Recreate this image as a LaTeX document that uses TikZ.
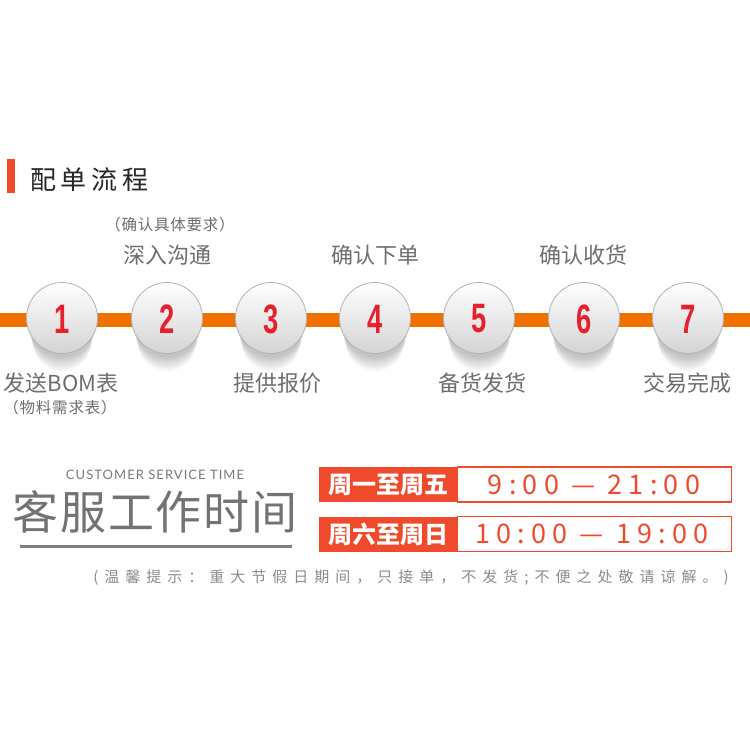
\documentclass[tikz,border=0pt]{standalone}
\usepackage{fontspec}
\setmainfont{Noto Sans CJK SC}
\newfontfamily\cjk{Noto Sans CJK SC}
\newfontfamily\cjklight{Noto Sans CJK SC}[LetterSpace=23]
\newfontfamily\latofont{Lato}[LetterSpace=8]
\newfontfamily\numfont{Liberation Sans}
\definecolor{accent}{HTML}{F04A2C}
\definecolor{linecol}{HTML}{F07000}
\definecolor{txtgray}{HTML}{6E6E6E}
\definecolor{numred}{HTML}{E8202E}
\tikzset{
  stepcirc/.style={circle,minimum size=71pt,inner sep=0pt,draw=black!30,line width=0.8pt,top color=white,bottom color=black!17},
  steplabel/.style={text=txtgray,font=\cjk\fontsize{22}{24}\selectfont,inner sep=0pt},
  smalllabel/.style={text=txtgray,font=\cjk\fontsize{15.5}{17}\selectfont\addfontfeatures{LetterSpace=5},inner sep=0pt},
  numtext/.style={text=numred,font=\numfont\bfseries\fontsize{38}{38}\selectfont,inner sep=0pt},
  redlabel/.style={fill=accent,text=white,font=\cjk\bfseries\fontsize{24}{26}\selectfont,minimum width=138pt,minimum height=35pt,inner sep=0pt},
  timebox/.style={draw=accent,line width=1.3pt,fill=white,minimum width=274pt,minimum height=35pt,inner sep=0pt},
  timetext/.style={text=accent,font=\cjklight\fontsize{27}{29}\selectfont,inner sep=0pt}
}
\begin{document}
\begin{tikzpicture}[x=1pt,y=-1pt]
\useasboundingbox (0,0) rectangle (750,750);
\fill[white] (0,0) rectangle (750,750);
% title
\fill[accent] (7,159) rectangle (15,193);
\node[anchor=west,inner sep=0pt,text=black!85,font=\cjk\fontsize{26}{28}\selectfont\addfontfeatures{LetterSpace=18}] (title) at (30,180) {配单流程};
% orange line
\coordinate (lstart) at (0,320);
\coordinate (lend) at (750,320);
\draw[linecol,line width=14pt] (lstart) -- (lend);
% circles
\foreach \i/\x in {1/62,2/167,3/271,4/375,5/479,6/584,7/688}{
  \foreach \k in {1,...,12}{
    \fill[black,opacity=0.018] (\x,{322+\k*1.6}) ellipse ({34-\k*0.4} and {34-\k*0.3});
  }
  \node[stepcirc] (c\i) at (\x,318) {};
  \node[numtext] (n\i) at (\x,319) {\scalebox{0.72}[1.08]{\i}};
}
% labels
\node[smalllabel] (req) at (170,225) {（确认具体要求）};
\node[steplabel] (t2) at (167,255) {深入沟通};
\node[steplabel] (t4) at (375,255) {确认下单};
\node[steplabel] (t6) at (583,255) {确认收货};
\node[steplabel] (b1) at (61,383) {发送BOM表};
\node[smalllabel] (b1s) at (60,408) {（物料需求表）};
\node[steplabel] (b3) at (277,383) {提供报价};
\node[steplabel] (b5) at (482,383) {备货发货};
\node[steplabel] (b7) at (687,383) {交易完成};
% service time
\node[inner sep=0pt,text=black!52,font=\latofont\fontsize{13}{15}\selectfont] (cst) at (155,475) {CUSTOMER SERVICE TIME};
\node[inner sep=0pt,text=black!55,font=\cjk\fontsize{46}{48}\selectfont\addfontfeatures{LetterSpace=4}] (kf) at (155,512) {客服工作时间};
\coordinate (ul1) at (20,546);
\coordinate (ul2) at (292,546);
\draw[black!50,line width=3pt] (ul1) -- (ul2);
% boxes
\node[timebox,anchor=west] (tb1) at (457,484.5) {};
\node[redlabel,anchor=west] (rl1) at (319,484.5) {周一至周五};
\node[timetext] (tt1) at (594,485) {9:00 — 21:00};
\node[timebox,anchor=west] (tb2) at (457,534) {};
\node[redlabel,anchor=west] (rl2) at (319,534) {周六至周日};
\node[timetext] (tt2) at (592,534) {10:00 — 19:00};
% footnote
\node[inner sep=0pt,text=black!45,font=\cjk\fontsize{15}{17}\selectfont\addfontfeatures{LetterSpace=40}] (note) at (411,578) {(温馨提示：重大节假日期间，只接单，不发货;不便之处敬请谅解。)};
\end{tikzpicture}
\end{document}
